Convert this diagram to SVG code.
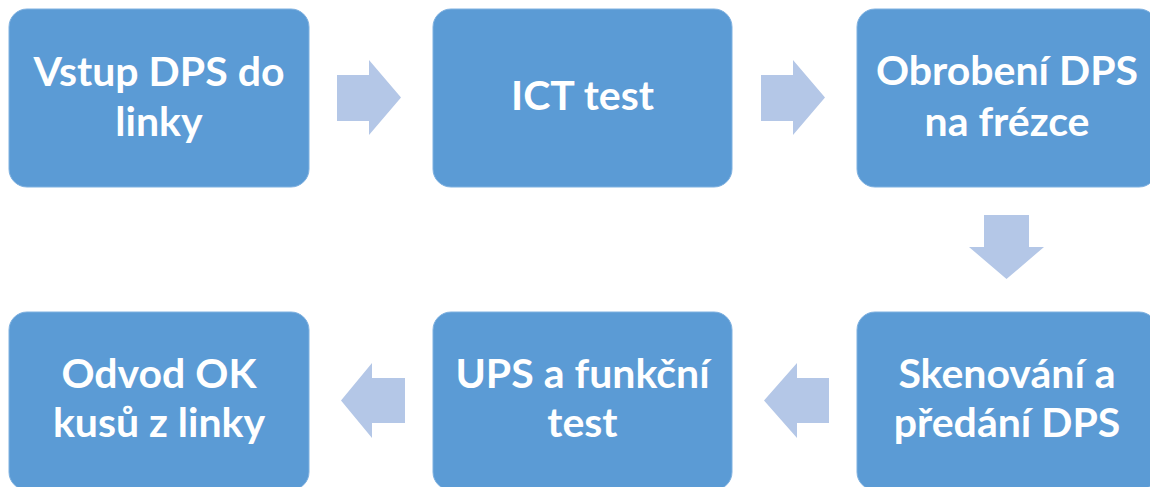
<svg xmlns="http://www.w3.org/2000/svg" width="1150" height="487" viewBox="0 0 1150 487">
<style>
.box{fill:#5B9BD5;stroke:#7FB1E0;stroke-width:1}
.lbl{font-family:Lato,"Liberation Sans",sans-serif;font-weight:bold;font-size:41px;fill:#FFFFFF;text-anchor:middle}
.arr{fill:#B4C7E7}
</style>
<rect width="1150" height="487" fill="#FFFFFF"/>
<g id="connectors">
<polygon class="arr" points="337,75 369,75 369,60 401,97.5 369,135 369,121 337,121"/>
<polygon class="arr" points="761,75 793,75 793,60 825,97.5 793,135 793,121 761,121"/>
<polygon class="arr" points="984,215 1029,215 1029,247 1044,247 1006.5,279 969,247 984,247"/>
<polygon class="arr" points="829,378 797,378 797,363 764,400.5 797,438 797,423 829,423"/>
<polygon class="arr" points="405,378 372,378 372,363 341,400.5 372,438 372,423 405,423"/>
</g>
<g id="n1"><rect class="box" x="9" y="9" width="300" height="178" rx="18"/><text class="lbl" x="159" y="86">Vstup DPS do</text><text class="lbl" x="159" y="136">linky</text></g>
<g id="n2"><rect class="box" x="433" y="9" width="299" height="178" rx="18"/><text class="lbl" x="582.5" y="110">ICT test</text></g>
<g id="n3"><rect class="box" x="857" y="9" width="300" height="178" rx="18"/><text class="lbl" x="1007" y="85">Obrobení DPS</text><text class="lbl" x="1007" y="136">na frézce</text></g>
<g id="n4"><rect class="box" x="857" y="312" width="300" height="178" rx="18"/><text class="lbl" x="1007" y="388">Skenování a</text><text class="lbl" x="1007" y="437">předání DPS</text></g>
<g id="n5"><rect class="box" x="433" y="312" width="299" height="178" rx="18"/><text class="lbl" x="582.5" y="388">UPS a funkční</text><text class="lbl" x="582.5" y="437">test</text></g>
<g id="n6"><rect class="box" x="9" y="312" width="300" height="178" rx="18"/><text class="lbl" x="159" y="388">Odvod OK</text><text class="lbl" x="159" y="437">kusů z linky</text></g>
</svg>
